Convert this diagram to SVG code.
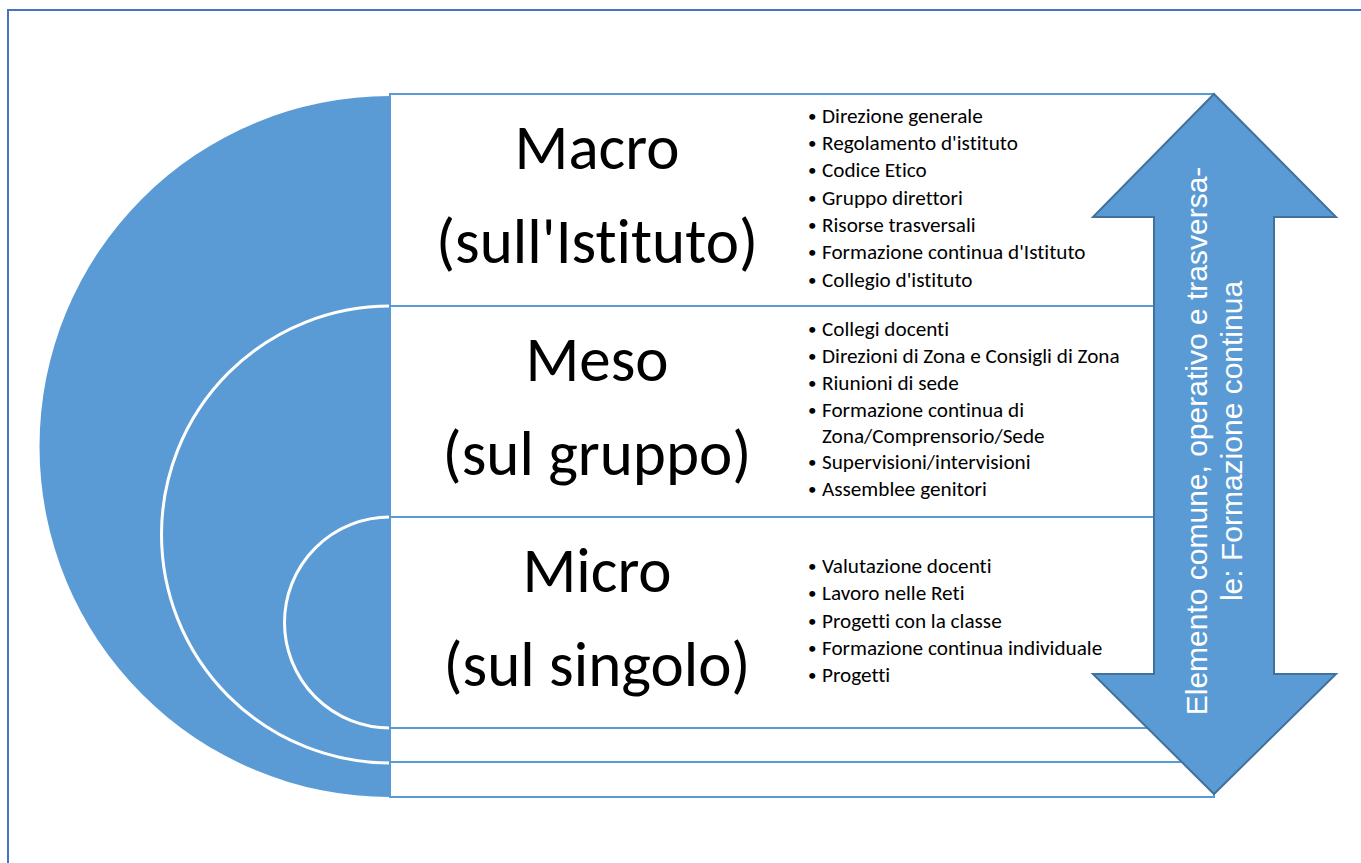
<svg xmlns="http://www.w3.org/2000/svg" width="1361" height="863" viewBox="0 0 1361 863">
<style>
text{font-variant-ligatures:none;font-feature-settings:"liga" 0,"clig" 0}
.frame{fill:none;stroke:#4472C4;stroke-width:2}
.band{fill:#FFFFFF;stroke:#5B9BD5;stroke-width:2}
.half{fill:#5B9BD5;stroke:#FFFFFF;stroke-width:3}
.big{font-family:Carlito,Lato,"Open Sans",sans-serif;font-size:63px;fill:#000;text-anchor:middle}
.li{font-family:Carlito,Lato,"Open Sans",sans-serif;font-size:21.2px;fill:#000}
.bu{font-family:Carlito,Lato,"Open Sans",sans-serif;font-size:17px;fill:#000}
.arrow{fill:#5B9BD5;stroke:#41719C;stroke-width:2}
.atext{font-family:"Liberation Sans",Arial,sans-serif;font-size:30px;fill:#FFFFFF;text-anchor:middle}
</style>
<rect class="frame" x="8" y="10" width="1362" height="870"/>
<g id="semicircles">
<path d="M390,96 A350.5,350.5 0 0 0 390,797 Z" fill="#5B9BD5"/>
<path class="half" d="M390,306 A228.5,228.5 0 0 0 390,763"/>
<path class="half" d="M390,517 A105.5,105.5 0 0 0 390,728"/>
</g>
<g id="macro">
<rect class="band" x="390" y="94" width="824" height="212"/>
<text class="big" x="597" y="169">Macro</text>
<text class="big" x="597" y="263">(sull'Istituto)</text>
<g class="li">
<text class="bu" x="808" y="122">•</text><text x="822" y="123">Direzione generale</text>
<text class="bu" x="808" y="149">•</text><text x="822" y="150">Regolamento d'istituto</text>
<text class="bu" x="808" y="176">•</text><text x="822" y="177">Codice Etico</text>
<text class="bu" x="808" y="204">•</text><text x="822" y="205">Gruppo direttori</text>
<text class="bu" x="808" y="231">•</text><text x="822" y="232">Risorse trasversali</text>
<text class="bu" x="808" y="258">•</text><text x="822" y="259">Formazione continua d'Istituto</text>
<text class="bu" x="808" y="286">•</text><text x="822" y="287">Collegio d'istituto</text>
</g>
</g>
<g id="meso">
<rect class="band" x="390" y="306" width="824" height="211"/>
<text class="big" x="597" y="381">Meso</text>
<text class="big" x="597" y="475">(sul gruppo)</text>
<g class="li">
<text class="bu" x="808" y="335">•</text><text x="822" y="336">Collegi docenti</text>
<text class="bu" x="808" y="362">•</text><text x="822" y="363">Direzioni di Zona e Consigli di Zona</text>
<text class="bu" x="808" y="389">•</text><text x="822" y="390">Riunioni di sede</text>
<text class="bu" x="808" y="416">•</text><text x="822" y="417">Formazione continua di</text>
<text x="822" y="443">Zona/Comprensorio/Sede</text>
<text class="bu" x="808" y="468">•</text><text x="822" y="469">Supervisioni/intervisioni</text>
<text class="bu" x="808" y="495">•</text><text x="822" y="496">Assemblee genitori</text>
</g>
</g>
<g id="micro">
<rect class="band" x="390" y="517" width="824" height="211"/>
<text class="big" x="597" y="592">Micro</text>
<text class="big" x="597" y="686">(sul singolo)</text>
<g class="li">
<text class="bu" x="808" y="572">•</text><text x="822" y="573">Valutazione docenti</text>
<text class="bu" x="808" y="599">•</text><text x="822" y="600">Lavoro nelle Reti</text>
<text class="bu" x="808" y="627">•</text><text x="822" y="628">Progetti con la classe</text>
<text class="bu" x="808" y="654">•</text><text x="822" y="655">Formazione continua individuale</text>
<text class="bu" x="808" y="681">•</text><text x="822" y="682">Progetti</text>
</g>
</g>
<g id="band-4">
<rect class="band" x="390" y="728" width="824" height="34"/>
</g>
<g id="band-5">
<rect class="band" x="390" y="762" width="824" height="35"/>
</g>
<g id="arrow">
<path class="arrow" d="M1214,94 L1336,217 L1274,217 L1274,674 L1336,674 L1214,794 L1093,674 L1154,674 L1154,217 L1093,217 Z"/>
<g transform="translate(1214,441) rotate(-90)">
<text class="atext" x="0" y="-7">Elemento comune, operativo e trasversa-</text>
<text class="atext" x="0" y="28">le: Formazione continua</text>
</g>
</g>
<g id="connectors"/>
</svg>
